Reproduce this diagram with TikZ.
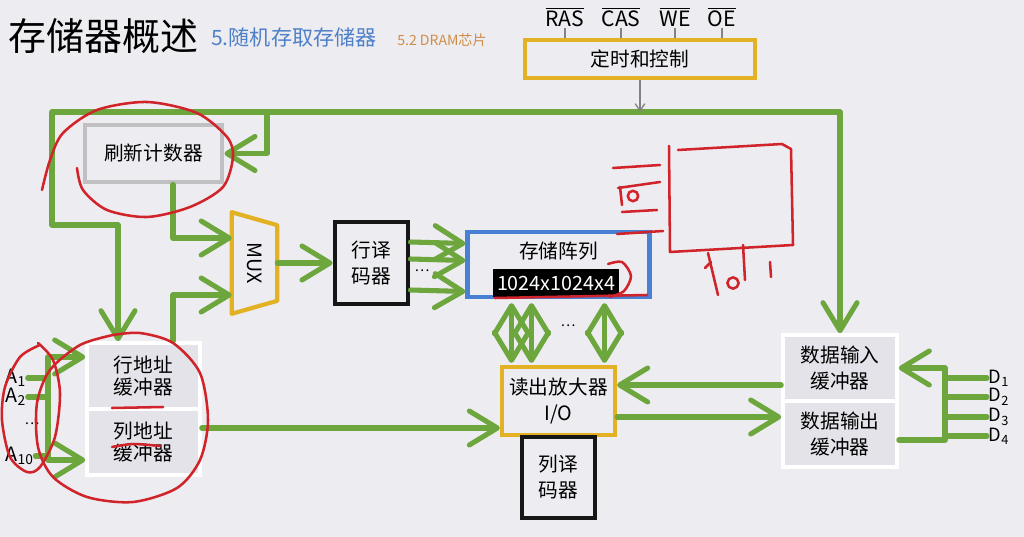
\documentclass[tikz,border=0pt]{standalone}
\usepackage{fontspec}
\setmainfont{Noto Sans CJK SC}
\usetikzlibrary{arrows.meta,calc}

\definecolor{paper}{RGB}{237,236,241}
\definecolor{wiregreen}{RGB}{108,166,60}
\definecolor{ochre}{RGB}{226,177,36}
\definecolor{arrayblue}{RGB}{72,128,212}
\definecolor{inkblack}{RGB}{22,22,22}
\definecolor{boxgrey}{RGB}{192,192,194}
\definecolor{buffill}{RGB}{228,227,233}
\definecolor{penred}{RGB}{208,36,42}
\definecolor{headblue}{RGB}{78,128,200}
\definecolor{headorange}{RGB}{206,142,72}
\definecolor{signalgrey}{RGB}{130,130,130}

\begin{document}
\begin{tikzpicture}[x=0.025cm, y=-0.025cm, font=\fontsize{14}{18.5}\selectfont,
  wire/.style={draw=wiregreen, line width=3.6pt, line cap=round, line join=round,
    >={Straight Barb[round, length=7mm, width=8.5mm]}},
  sigwire/.style={draw=signalgrey, line width=0.9pt},
  redpen/.style={draw=penred, line width=1.8pt, line cap=round, line join=round},
  sig/.style={inner sep=1pt, font=\fontsize{15}{18}\selectfont},
  ctrlbox/.style={draw=ochre, line width=3pt, minimum width=5.75cm, minimum height=0.95cm},
  greybox/.style={draw=boxgrey, line width=3.5pt},
  blkbox/.style={draw=inkblack, line width=3.5pt, align=center, minimum width=1.825cm},
  bufbox/.style={fill=buffill, draw=white, line width=2.5pt, align=center},
  sizetag/.style={fill=black, text=white, inner xsep=3pt, minimum height=0.675cm}]

  % --- page
  \fill[paper] (0,0) rectangle (1024,537);
  \useasboundingbox (0,0) rectangle (1024,537);

  % --- title
  \node[anchor=base west, inner sep=0pt, font=\fontsize{27}{30}\selectfont] (title) at (8,51) {存储器概述};
  \node[anchor=base west, inner sep=0pt, text=headblue, font=\fontsize{15}{18}\selectfont] (chapter) at (211,46) {5.随机存取存储器};
  \node[anchor=base west, inner sep=0pt, text=headorange, font=\fontsize{10}{12}\selectfont] (section) at (397,46) {5.2 DRAM芯片};

  % --- control signals
  \node[sig] (ras) at (565,17) {$\overline{\mbox{RAS}}$};
  \node[sig] (cas) at (621,17) {$\overline{\mbox{CAS}}$};
  \node[sig] (we) at (675,17) {$\overline{\mbox{WE}}$};
  \node[sig] (oe) at (722,17) {$\overline{\mbox{OE}}$};
  \node[ctrlbox] (ctrl) at (640,59) {定时和控制};
  \foreach \s in {ras,cas,we,oe}
    \draw[sigwire] (\s.south) -- (\s.south |- ctrl.north);

  % --- blocks
  \node[greybox, minimum width=3.425cm, minimum height=1.425cm] (refresh) at (153.5,153.5) {刷新计数器};
  \node[minimum width=1.125cm, minimum height=2.525cm, inner sep=0pt] (mux) at (254.5,263) {};
  \draw[draw=ochre, line width=3pt, line join=round] (mux.north west) -- ($(mux.north east)+(0,13)$)
    -- ($(mux.south east)+(0,-13)$) -- (mux.south west) -- cycle;
  \node[rotate=-90] at (mux.center) {MUX};
  \node[blkbox, minimum height=2.05cm] (rowdec) at (371.5,263) {行译\\码器};
  \node[draw=arrayblue, line width=3pt, minimum width=4.55cm, minimum height=1.625cm] (array) at (558.5,264.5) {};
  \node (arrname) at ($(array.center)+(0,-13)$) {存储阵列};
  \node[sizetag] (arrsize) at ($(array.center)+(-2.5,18.5)$) {1024x1024x4};
  \node[draw=ochre, line width=3pt, align=center, minimum width=2.825cm, minimum height=1.7cm] (sense) at (558.5,401) {读出放大器\\I/O};
  \node[blkbox, minimum height=2.025cm] (coldec) at (558.5,477.5) {列译\\码器};
  \node[bufbox, minimum width=2.825cm, minimum height=1.65cm, font=\fontsize{14}{15.6}\selectfont] (rowbuf) at (143.5,376) {行地址\\缓冲器};
  \node[bufbox, minimum width=2.825cm, minimum height=1.65cm, font=\fontsize{14}{15.6}\selectfont] (colbuf) at (143.5,442) {列地址\\缓冲器};
  \node[bufbox, minimum width=2.85cm, minimum height=1.65cm] (datain) at (840,368) {数据输入\\缓冲器};
  \node[bufbox, minimum width=2.85cm, minimum height=1.65cm] (dataout) at (840,434) {数据输出\\缓冲器};

  % --- pins
  \node[anchor=west, inner sep=1pt] (a1) at (4,378) {A\textsubscript{1}};
  \node[anchor=west, inner sep=1pt] (a2) at (4,397) {A\textsubscript{2}};
  \node[font=\fontsize{10}{12}\selectfont] (adots) at (32,424) {\dots};
  \node[anchor=west, inner sep=1pt] (a10) at (4,456) {A\textsubscript{10}};
  \coordinate (abus) at (48,400);
  \node[anchor=west, inner sep=1pt, font=\fontsize{13}{15}\selectfont] (d1) at (987,378) {D\textsubscript{1}};
  \node[anchor=west, inner sep=1pt, font=\fontsize{13}{15}\selectfont] (d2) at (987,397) {D\textsubscript{2}};
  \node[anchor=west, inner sep=1pt, font=\fontsize{13}{15}\selectfont] (d3) at (987,417) {D\textsubscript{3}};
  \node[anchor=west, inner sep=1pt, font=\fontsize{13}{15}\selectfont] (d4) at (987,436) {D\textsubscript{4}};
  \coordinate (dbus) at (945,400);
  \coordinate (tl) at (52,112);

  % --- green wiring
  \draw[wire,<->] ($(rowbuf.north)+(-25.5,0)$) |- (52,225) -- (tl) -| (datain.north);
  \draw[wire,->] (267,112) |- (refresh.east);
  \draw[wire,->] ($(refresh.south)+(19.5,0)$) |- ($(mux.west)+(0,-25)$);
  \draw[wire,->] ($(rowbuf.north)+(29.5,0)$) |- ($(mux.west)+(0,32)$);
  \draw[wire,->] (mux.east) -- (rowdec.west);
  \foreach \dy in {-21,-4,27}
    \draw[wire,->] ($(rowdec.east)+(0,\dy)$) -- ($(array.west)+(0,\dy)$);
  \node[font=\fontsize{10}{12}\selectfont] (rowdots) at (422,271) {\dots};
  \foreach \dx in {-47,-27,46}
    \draw[wire,<->] ($(array.south)+(\dx,4)$) -- ($(sense.north)+(\dx,-2)$);
  \node[font=\fontsize{10}{12}\selectfont] (coldots) at (568,326) {\dots};
  \draw[wire,->] ($(colbuf.east)+(0,-14)$) -- ($(sense.west)+(0,27)$);
  \draw[wire,->] ($(datain.west)+(0,17)$) -- ($(sense.east)+(0,-16)$);
  \draw[wire,->] ($(sense.east)+(0,16)$) -- ($(dataout.west)+(0,-17)$);
  \draw[wire,->] ($(dataout.east)+(0,6)$) -| (dbus |- datain.east) -- (datain.east);
  \foreach \i in {1,...,4}
    \draw[wire] (d\i.west) -- (d\i.west -| dbus);
  \draw[wire,<->] ($(rowbuf.west)+(0,-19)$) -| (abus) |- ($(colbuf.west)+(0,18)$);
  \foreach \a in {a1,a2,a10}
    \draw[wire] (\a.east) -- (\a.east -| abus);
  \draw[sigwire,-{Straight Barb[length=1.8mm,width=2.4mm]}] (ctrl.south) -- (ctrl.south |- tl);

  % --- red pen notes
  \draw[redpen] plot[smooth] coordinates {(42,190) (50,160) (63,133) (97,110) (147,102) (197,113) (227,137) (233,157) (223,187) (190,207) (147,217) (107,210) (83,190) (77,168)};
  \draw[redpen] plot[smooth] coordinates {(40,345) (20,357) (5,387) (2,420) (10,457) (27,472) (40,467) (55,437) (60,393) (53,360) (38,343)};
  \draw[redpen] plot[smooth] coordinates {(113,335) (80,345) (50,370) (37,403) (38,447) (53,477) (87,497) (133,502) (177,488) (200,460) (208,420) (200,373) (173,343) (140,333) (113,335)};
  \draw[redpen] (112,408) -- (163,407);
  \draw[redpen] plot[smooth] coordinates {(112,447) (133,444) (160,446)};
  \draw[redpen] (495,298) -- (647,295);
  \draw[redpen] plot[smooth] coordinates {(608,264) (622,262) (631,276) (624,291) (610,297)};
  \draw[redpen] (617,234) -- (663,231);
  \draw[redpen] (669,146) -- (670,252) -- (793,245);
  \draw[redpen] (678,150) -- (782,144) -- (791,149) -- (793,245);
  \draw[redpen] (613,168) -- (660,165);
  \draw[redpen] (618,188) -- (660,182);
  \draw[redpen] (622,212) -- (657,210);
  \draw[redpen] (620,187) -- (622,205);
  \draw[redpen] (633,196) circle[radius=1.3mm];
  \draw[redpen] (708,253) -- (718,295);
  \draw[redpen] (705,268) -- (711,262);
  \draw[redpen] (733,283) circle[radius=1.4mm];
  \draw[redpen] (743,245) -- (745,280);
  \draw[redpen] (770,262) -- (771,277);
\end{tikzpicture}
\end{document}
